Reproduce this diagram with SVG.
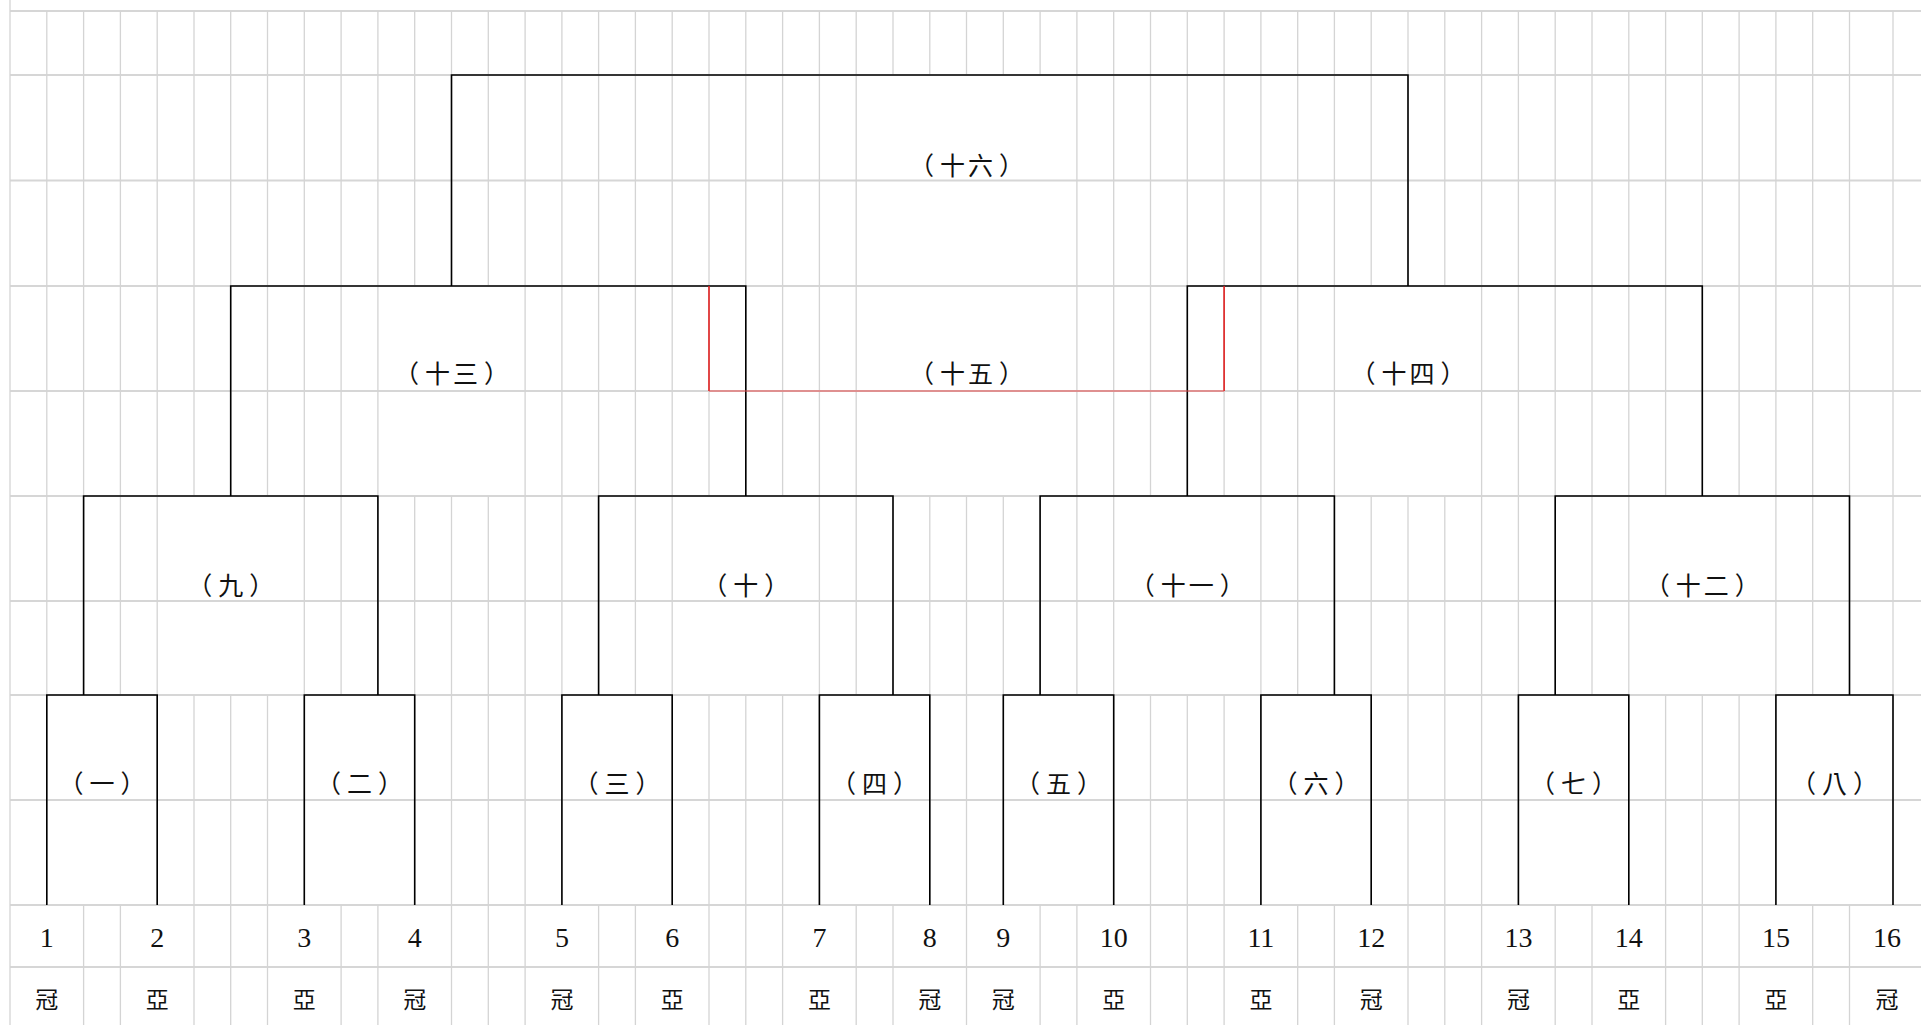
<svg xmlns="http://www.w3.org/2000/svg" width="1921" height="1025" viewBox="0 0 1921 1025">
<style>
.bg{fill:#ffffff}
.g{fill:none;stroke:#d4d4d4;stroke-width:1.3}
.gh{fill:none;stroke:#d6d6d6;stroke-width:1.8}
.b{fill:none;stroke:#000;stroke-width:1.6}
.r{fill:none;stroke:#e02020;stroke-width:1.6}
.rh{fill:none;stroke:#e84a4a;stroke-width:1.1}
.lbl{font-family:"Noto Sans CJK TC","Noto Sans CJK SC",sans-serif;font-size:25px;text-anchor:middle;fill:#111}
.num{font-family:"Liberation Serif",serif;font-size:28px;text-anchor:middle;fill:#111}
.res{font-family:"Noto Sans CJK TC","Noto Sans CJK SC",sans-serif;font-size:23px;text-anchor:middle;fill:#111}
</style>
<rect class="bg" x="0" y="0" width="1921" height="1025"/>
<g id="grid">
<path class="gh" d="M10 11H1921M10 75H1921M10 180.5H1921M10 286H1921M10 391H1921M10 496H1921M10 601H1921M10 695H1921M10 800H1921M10 905H1921M10 967H1921"/>
<path class="g" d="M10 0V1025M46.8 11V905M83.6 11V695M83.6 905V1025M120.4 11V695M120.4 905V1025M157.2 11V905M194 11V496M194 695V1025M230.7 11V496M230.7 695V1025M267.5 11V496M267.5 695V1025M304.3 11V905M341.1 11V695M341.1 905V1025M377.9 11V695M377.9 905V1025M414.7 11V286M414.7 496V905M451.5 11V286M451.5 496V1025M488.3 11V286M488.3 496V1025M525.1 11V1025M561.9 11V905M598.6 11V695M598.6 905V1025M635.4 11V695M635.4 905V1025M672.2 11V905M709 11V496M709 695V1025M745.8 11V496M745.8 695V1025M782.6 11V496M782.6 695V1025M819.4 11V905M856.2 11V695M856.2 905V1025M893 11V75M893 496V695M893 905V1025M929.8 11V75M929.8 496V905M966.5 11V75M966.5 496V1025M1003.3 11V75M1003.3 496V905M1040.1 11V75M1040.1 496V695M1040.1 905V1025M1076.9 11V695M1076.9 905V1025M1113.7 11V905M1150.5 11V496M1150.5 695V1025M1187.3 11V496M1187.3 695V1025M1224.1 11V496M1224.1 695V1025M1260.9 11V905M1297.7 11V695M1297.7 905V1025M1334.4 11V695M1334.4 905V1025M1371.2 11V286M1371.2 496V905M1408 11V286M1408 496V1025M1444.8 11V286M1444.8 496V1025M1481.6 11V1025M1518.4 11V905M1555.2 11V695M1555.2 905V1025M1592 11V695M1592 905V1025M1628.8 11V905M1665.6 11V496M1665.6 695V1025M1702.3 11V496M1702.3 695V1025M1739.1 11V496M1739.1 695V1025M1775.9 11V905M1812.7 11V695M1812.7 905V1025M1849.5 11V695M1849.5 905V1025M1893 11V905"/>
</g>
<g id="connectors">
<path class="b" d="M46.8 905V695H157.2V905"/>
<path class="b" d="M304.3 905V695H414.7V905"/>
<path class="b" d="M561.9 905V695H672.2V905"/>
<path class="b" d="M819.4 905V695H929.8V905"/>
<path class="b" d="M1003.3 905V695H1113.7V905"/>
<path class="b" d="M1260.9 905V695H1371.2V905"/>
<path class="b" d="M1518.4 905V695H1628.8V905"/>
<path class="b" d="M1775.9 905V695H1893V905"/>
<path class="b" d="M83.6 695V496H377.9V695"/>
<path class="b" d="M598.6 695V496H893V695"/>
<path class="b" d="M1040.1 695V496H1334.4V695"/>
<path class="b" d="M1555.2 695V496H1849.5V695"/>
<path class="b" d="M230.7 496V286H745.8V496"/>
<path class="b" d="M1187.3 496V286H1702.3V496"/>
<path class="b" d="M451.5 286V75H1408V286"/>
<path class="r" d="M709 286V391M1224.1 286V391"/>
<path class="rh" d="M709 391H1224.1"/>
</g>
<g id="match-1"><text class="lbl" x="102" y="793" dx="0 6 6">（一）</text></g>
<g id="match-2"><text class="lbl" x="359.5" y="793" dx="0 6 6">（二）</text></g>
<g id="match-3"><text class="lbl" x="617" y="793" dx="0 6 6">（三）</text></g>
<g id="match-4"><text class="lbl" x="874.6" y="793" dx="0 6 6">（四）</text></g>
<g id="match-5"><text class="lbl" x="1058.5" y="793" dx="0 6 6">（五）</text></g>
<g id="match-6"><text class="lbl" x="1316" y="793" dx="0 6 6">（六）</text></g>
<g id="match-7"><text class="lbl" x="1573.6" y="793" dx="0 6 6">（七）</text></g>
<g id="match-8"><text class="lbl" x="1834.5" y="793" dx="0 6 6">（八）</text></g>
<g id="match-9"><text class="lbl" x="230.7" y="595" dx="0 6 6">（九）</text></g>
<g id="match-10"><text class="lbl" x="745.8" y="595" dx="0 6 6">（十）</text></g>
<g id="match-11"><text class="lbl" x="1187.3" y="595" dx="0 6 3 6">（十一）</text></g>
<g id="match-12"><text class="lbl" x="1702.3" y="595" dx="0 6 3 6">（十二）</text></g>
<g id="match-13"><text class="lbl" x="451.5" y="383" dx="0 6 3 6">（十三）</text></g>
<g id="match-14"><text class="lbl" x="1408" y="383" dx="0 6 3 6">（十四）</text></g>
<g id="match-15"><text class="lbl" x="966.5" y="383" dx="0 6 3 6">（十五）</text></g>
<g id="match-16"><text class="lbl" x="966.5" y="175" dx="0 6 3 6">（十六）</text></g>
<g id="player-1"><text class="num" x="46.8" y="947">1</text><text class="res" x="46.8" y="1008">冠</text></g>
<g id="player-2"><text class="num" x="157.2" y="947">2</text><text class="res" x="157.2" y="1008">亞</text></g>
<g id="player-3"><text class="num" x="304.3" y="947">3</text><text class="res" x="304.3" y="1008">亞</text></g>
<g id="player-4"><text class="num" x="414.7" y="947">4</text><text class="res" x="414.7" y="1008">冠</text></g>
<g id="player-5"><text class="num" x="561.9" y="947">5</text><text class="res" x="561.9" y="1008">冠</text></g>
<g id="player-6"><text class="num" x="672.2" y="947">6</text><text class="res" x="672.2" y="1008">亞</text></g>
<g id="player-7"><text class="num" x="819.4" y="947">7</text><text class="res" x="819.4" y="1008">亞</text></g>
<g id="player-8"><text class="num" x="929.8" y="947">8</text><text class="res" x="929.8" y="1008">冠</text></g>
<g id="player-9"><text class="num" x="1003.3" y="947">9</text><text class="res" x="1003.3" y="1008">冠</text></g>
<g id="player-10"><text class="num" x="1113.7" y="947">10</text><text class="res" x="1113.7" y="1008">亞</text></g>
<g id="player-11"><text class="num" x="1260.9" y="947">11</text><text class="res" x="1260.9" y="1008">亞</text></g>
<g id="player-12"><text class="num" x="1371.2" y="947">12</text><text class="res" x="1371.2" y="1008">冠</text></g>
<g id="player-13"><text class="num" x="1518.4" y="947">13</text><text class="res" x="1518.4" y="1008">冠</text></g>
<g id="player-14"><text class="num" x="1628.8" y="947">14</text><text class="res" x="1628.8" y="1008">亞</text></g>
<g id="player-15"><text class="num" x="1775.9" y="947">15</text><text class="res" x="1775.9" y="1008">亞</text></g>
<g id="player-16"><text class="num" x="1887" y="947">16</text><text class="res" x="1887" y="1008">冠</text></g>
</svg>
